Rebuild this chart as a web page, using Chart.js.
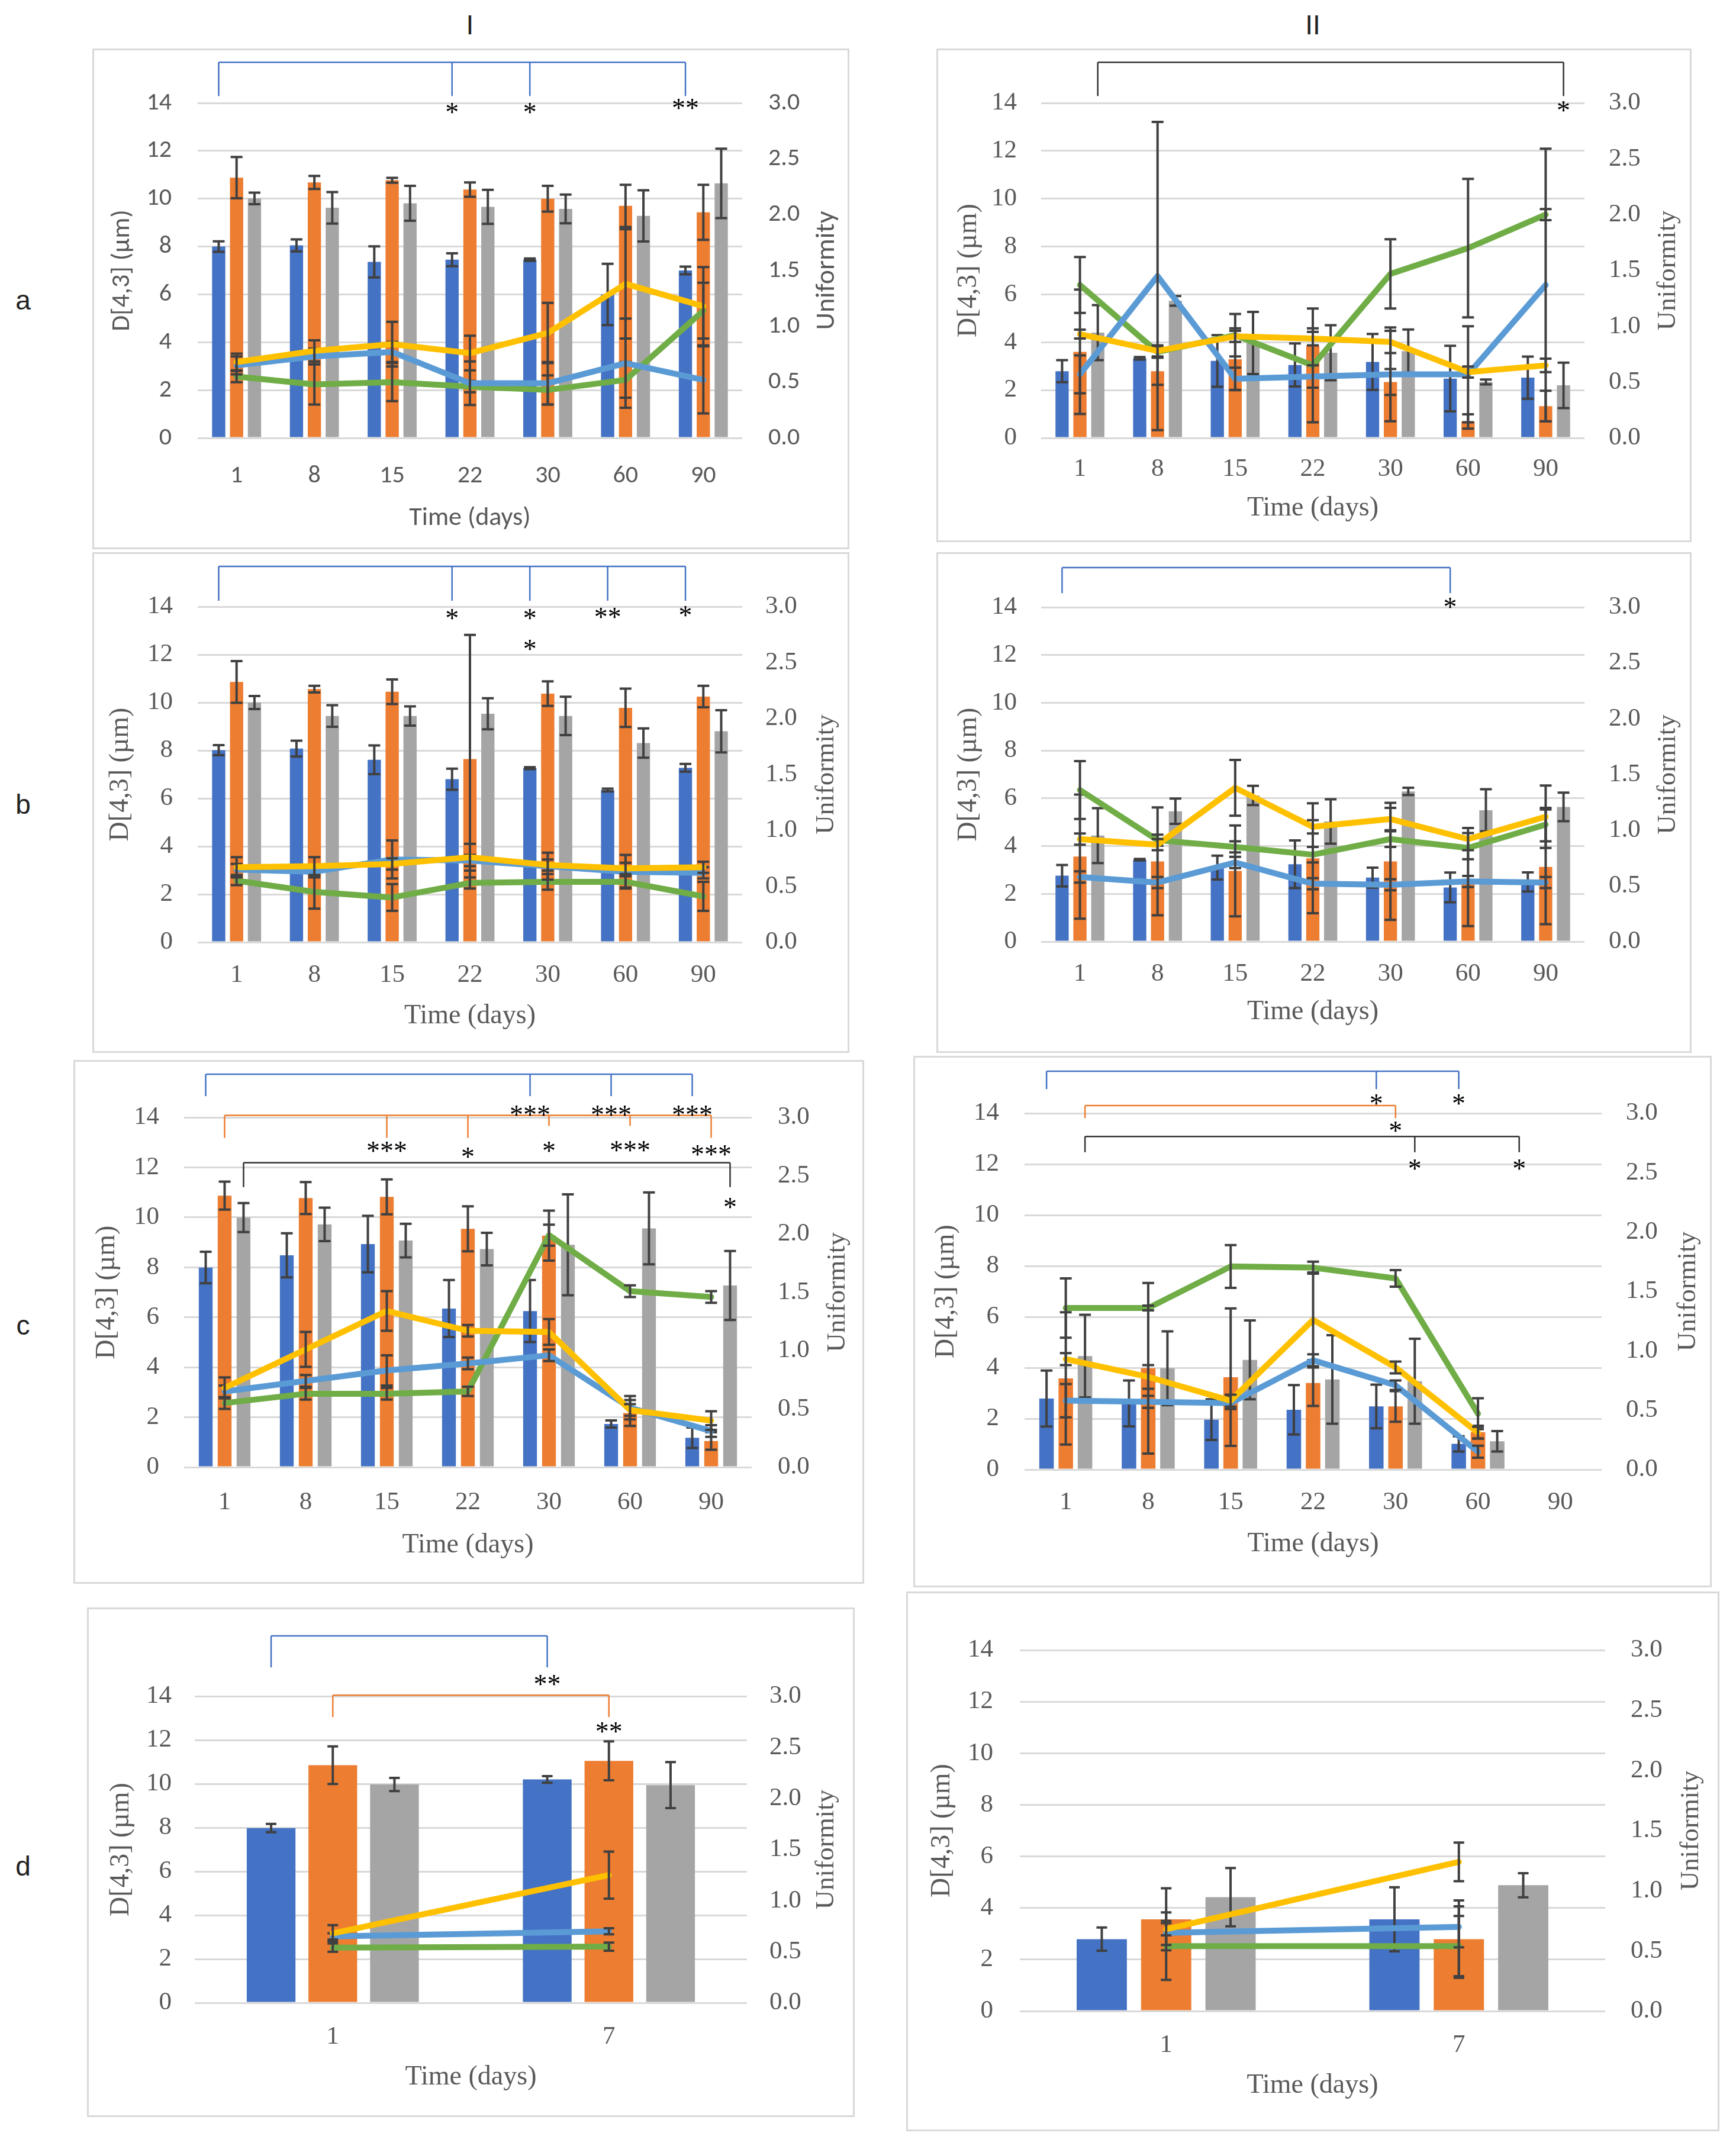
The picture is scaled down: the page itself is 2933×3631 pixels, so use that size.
<!DOCTYPE html>
<html><head><meta charset="utf-8">
<script src="https://cdn.jsdelivr.net/npm/chart.js@4.4.1/dist/chart.umd.min.js"></script>
<style>
html,body{margin:0;padding:0;background:#fff;}
body{width:2933px;height:3631px;position:relative;overflow:hidden;}
.panel{position:absolute;background:#fff;}
.panel canvas{position:absolute;left:0;top:0;}
.frame{position:absolute;border:3px solid #D9D9D9;box-sizing:border-box;pointer-events:none;}
.lbl{position:absolute;font-family:'Liberation Sans',Arial,sans-serif;font-size:46px;color:#222;transform:translate(-50%,-50%);}
</style></head><body>
<div class="lbl" style="left:794px;top:42px">I</div>
<div class="lbl" style="left:2218px;top:42px">II</div>
<div class="lbl" style="left:39px;top:507px">a</div>
<div class="lbl" style="left:39px;top:1359px">b</div>
<div class="lbl" style="left:39px;top:2239px">c</div>
<div class="lbl" style="left:39px;top:3153px">d</div>
<script>
// ---------------- DATA ----------------
const days7 = ['1','8','15','22','30','60','90'];
const days2 = ['1','7'];

// Panel a / I
const aI_blue = [8.0, 8.05, 7.36, 7.45, 7.45, 6.0, 7.0];
const aI_blueErr = [0.22, 0.25, 0.65, 0.27, 0.05, 1.28, 0.16];
const aI_orange = [10.88, 10.68, 10.77, 10.38, 10.0, 9.7, 9.43];
const aI_orangeErr = [0.86, 0.27, 0.1, 0.3, 0.54, 0.88, 1.15];
const aI_gray = [10.01, 9.62, 9.81, 9.66, 9.57, 9.28, 10.64];
const aI_grayErr = [0.24, 0.66, 0.73, 0.71, 0.6, 1.07, 1.45];
const aI_yellowU = [0.68, 0.78, 0.84, 0.76, 0.94, 1.38, 1.18];
const aI_yellowUErr = [0.075, 0.095, 0.2, 0.155, 0.27, 0.49, 0.35];
const aI_lblueU = [0.65, 0.73, 0.77, 0.49, 0.49, 0.67, 0.52];
const aI_lblueUErr = [0.08, 0.07, 0.09, 0.195, 0.19, 0.40, 0.30];
const aI_greenU = [0.55, 0.48, 0.50, 0.46, 0.43, 0.52, 1.14];
const aI_greenUErr = [0.05, 0.18, 0.17, 0.05, 0.13, 0.16, 0.25];

// Panel a / II
const aII_blue = [2.79, 3.33, 3.22, 3.05, 3.18, 2.48, 2.52];
const aII_blueErr = [0.46, 0.05, 1.08, 0.9, 1.17, 1.37, 0.88];
const aII_orange = [3.6, 2.79, 3.29, 3.86, 2.34, 0.69, 1.33];
const aII_orangeErr = [2.6, 0.57, 1.29, 0.72, 0.54, 0.3, 0.64];
const aII_gray = [4.4, 5.73, 3.97, 3.56, 3.63, 2.34, 2.2];
const aII_grayErr = [1.15, 0.2, 1.3, 1.15, 0.9, 0.1, 0.95];
const aII_yellowU = [0.93, 0.78, 0.91, 0.89, 0.86, 0.59, 0.65];
const aII_yellowUErr = [0.04, 0.05, 0.05, 0.06, 0.1, 0.05, 0.06];
const aII_lblueU = [0.57, 1.45, 0.53, 0.55, 0.57, 0.57, 1.37];
const aII_lblueUErr = [0.17, 1.38, 0.1, 0.1, 0.42, 0.43, 1.22];
const aII_greenU = [1.37, 0.77, 0.92, 0.65, 1.47, 1.70, 2.0];
const aII_greenUErr = [0.25, 0.05, 0.19, 0.51, 0.31, 0.62, 0.05];

// Panel b / I
const bI_blue = [8.01, 8.08, 7.61, 6.8, 7.26, 6.35, 7.28];
const bI_blueErr = [0.21, 0.33, 0.6, 0.44, 0.04, 0.06, 0.16];
const bI_orange = [10.86, 10.56, 10.45, 7.64, 10.37, 9.78, 10.25];
const bI_orangeErr = [0.87, 0.14, 0.51, 5.18, 0.51, 0.8, 0.45];
const bI_gray = [10.0, 9.44, 9.44, 9.53, 9.44, 8.31, 8.8];
const bI_grayErr = [0.27, 0.45, 0.4, 0.65, 0.8, 0.61, 0.88];
const bI_yellowU = [0.67, 0.68, 0.70, 0.76, 0.69, 0.66, 0.67];
const bI_yellowUErr = [0.09, 0.08, 0.05, 0.12, 0.05, 0.05, 0.05];
const bI_lblueU = [0.65, 0.63, 0.74, 0.73, 0.68, 0.63, 0.62];
const bI_lblueUErr = [0.05, 0.05, 0.17, 0.05, 0.12, 0.15, 0.05];
const bI_greenU = [0.55, 0.45, 0.40, 0.53, 0.54, 0.54, 0.41];
const bI_greenUErr = [0.04, 0.15, 0.12, 0.05, 0.07, 0.05, 0.13];

// Panel b / II
const bII_blue = [2.76, 3.43, 3.1, 3.24, 2.68, 2.27, 2.5];
const bII_blueErr = [0.45, 0.03, 0.5, 1.0, 0.42, 0.62, 0.4];
const bII_orange = [3.56, 3.36, 2.96, 3.49, 3.36, 2.6, 3.13];
const bII_orangeErr = [2.6, 2.26, 1.9, 2.3, 2.45, 1.95, 2.4];
const bII_gray = [4.44, 5.46, 6.12, 5.03, 6.29, 5.5, 5.64];
const bII_grayErr = [1.15, 0.53, 0.4, 0.93, 0.15, 0.88, 0.6];
const bII_yellowU = [0.92, 0.87, 1.38, 1.03, 1.10, 0.92, 1.12];
const bII_yellowUErr = [0.05, 0.05, 0.25, 0.06, 0.1, 0.1, 0.28];
const bII_lblueU = [0.58, 0.53, 0.71, 0.52, 0.51, 0.54, 0.53];
const bII_lblueUErr = [0.05, 0.05, 0.05, 0.05, 0.05, 0.05, 0.05];
const bII_greenU = [1.36, 0.91, 0.85, 0.78, 0.92, 0.84, 1.05];
const bII_greenUErr = [0.26, 0.05, 0.05, 0.07, 0.07, 0.1, 0.15];

// Panel c / I
const cI_blue = [7.99, 8.48, 8.93, 6.35, 6.25, 1.73, 1.18];
const cI_blueErr = [0.63, 0.88, 1.13, 1.14, 1.24, 0.14, 0.41];
const cI_orange = [10.87, 10.77, 10.82, 9.54, 9.27, 2.17, 1.05];
const cI_orangeErr = [0.56, 0.64, 0.7, 0.9, 1.0, 0.52, 0.35];
const cI_gray = [9.99, 9.72, 9.07, 8.73, 8.9, 9.56, 7.27];
const cI_grayErr = [0.58, 0.67, 0.67, 0.65, 2.02, 1.44, 1.38];
const cI_yellowU = [0.68, 1.01, 1.34, 1.17, 1.16, 0.49, 0.40];
const cI_yellowUErr = [0.09, 0.15, 0.17, 0.05, 0.11, 0.05, 0.08];
const cI_lblueU = [0.65, 0.74, 0.83, 0.89, 0.96, 0.51, 0.31];
const cI_lblueUErr = [0.05, 0.05, 0.13, 0.05, 0.05, 0.1, 0.05];
const cI_greenU = [0.55, 0.63, 0.63, 0.65, 1.99, 1.51, 1.46];
const cI_greenUErr = [0.05, 0.05, 0.05, 0.04, 0.09, 0.05, 0.05];

// Panel c / II (no 90-day values)
const cII_blue = [2.79, 2.6, 1.96, 2.35, 2.48, 1.01, null];
const cII_blueErr = [1.1, 0.9, 0.8, 0.97, 0.86, 0.3, null];
const cII_orange = [3.58, 3.98, 3.63, 3.4, 2.48, 1.47, null];
const cII_orangeErr = [2.6, 3.35, 2.7, 0.9, 0.6, 0.25, null];
const cII_gray = [4.46, 3.98, 4.31, 3.54, 3.47, 1.11, null];
const cII_grayErr = [1.62, 1.45, 1.55, 1.74, 1.67, 0.4, null];
const cII_yellowU = [0.93, 0.78, 0.58, 1.26, 0.86, 0.31, null];
const cII_yellowUErr = [0.05, 0.1, 0.05, 0.4, 0.05, 0.05, null];
const cII_lblueU = [0.58, 0.57, 0.56, 0.92, 0.71, 0.15, null];
const cII_lblueUErr = [0.14, 0.05, 0.05, 0.05, 0.04, 0.05, null];
const cII_greenU = [1.36, 1.36, 1.71, 1.70, 1.61, 0.47, null];
const cII_greenUErr = [0.25, 0.02, 0.18, 0.05, 0.07, 0.13, null];

// Panel d / I
const dI_blue = [7.98, 10.2];
const dI_blueErr = [0.19, 0.15];
const dI_orange = [10.85, 11.05];
const dI_orangeErr = [0.86, 0.89];
const dI_gray = [9.97, 9.94];
const dI_grayErr = [0.3, 1.05];
const dI_yellowU = [0.68, 1.25];
const dI_yellowUErr = [0.08, 0.23];
const dI_lblueU = [0.65, 0.70];
const dI_lblueUErr = [0.03, 0.03];
const dI_greenU = [0.54, 0.55];
const dI_greenUErr = [0.04, 0.04];

// Panel d / II
const dII_blue = [2.79, 3.56];
const dII_blueErr = [0.45, 1.24];
const dII_orange = [3.56, 2.79];
const dII_orangeErr = [1.2, 1.5];
const dII_gray = [4.42, 4.88];
const dII_grayErr = [1.13, 0.47];
const dII_yellowU = [0.68, 1.24];
const dII_yellowUErr = [0.05, 0.16];
const dII_lblueU = [0.65, 0.70];
const dII_lblueUErr = [0.1, 0.17];
const dII_greenU = [0.54, 0.54];
const dII_greenUErr = [0.28, 0.25];

// Significance brackets: level (left-axis units), anchors [category, barSeries(-1 = category scale), drop level]
const aI_brackets = [{c:'blue', y:15.7, at:[[0,0,14.29],[3,0,14.29],[4,0,14.29],[6,0,14.29]]}];
const aI_stars = [[3,0,13.8,'*'],[4,0,13.8,'*'],[6,0,13.97,'**']];
const aII_brackets = [{c:'black', y:15.7, at:[[0,2,14.29],[6,2,14.29]]}];
const aII_stars = [[6,2,13.87,'*']];
const bI_brackets = [{c:'blue', y:15.68, at:[[0,0,14.25],[3,0,14.25],[4,0,14.25],[5,0,14.25],[6,0,14.25]]}];
const bI_stars = [[3,0,13.7,'*'],[4,0,13.7,'*'],[5,0,13.75,'**'],[6,0,13.83,'*'],[4,0,12.42,'*']];
const bII_brackets = [{c:'blue', y:15.66, at:[[0,0,14.59],[5,0,14.59]]}];
const bII_stars = [[5,0,14.2,'*']];
const cI_brackets = [
  {c:'blue', y:15.73, at:[[0,0,14.85],[4,0,14.85],[5,0,14.85],[6,0,14.85]]},
  {c:'orange', y:14.08, at:[[0,1,13.18],[2,1,13.18],[3,1,13.18],[4,1,13.66],[5,1,13.66],[6,1,13.18]]},
  {c:'black', y:12.19, at:[[0,2,11.21],[6,2,11.21]]}
];
const cI_stars = [[4,0,14.29,'***'],[5,0,14.29,'***'],[6,0,14.29,'***'],
  [2,1,12.84,'***'],[3,1,12.61,'*'],[4,1,12.84,'*'],[5,1,12.86,'***'],[6,1,12.7,'***'],[6,2,10.6,'*']];
const cII_brackets = [
  {c:'blue', y:15.65, at:[[0,0,14.95],[4,0,14.95],[5,0,14.95]]},
  {c:'orange', y:14.3, at:[[0,2,13.81],[4,1,13.81]]},
  {c:'black', y:13.09, at:[[0,2,12.47],[4,2,12.47],[5.5,-1,12.47]]}
];
const cII_stars = [[4,0,14.56,'*'],[5,0,14.56,'*'],[4,1,13.49,'*'],[4,2,12.0,'*'],[5.5,-1,12.0,'*']];
const dI_brackets = [
  {c:'blue', y:16.76, at:[[0,0,15.32],[1,0,15.32]]},
  {c:'orange', y:14.05, at:[[0,1,13.05],[1,1,13.05]]}
];
const dI_stars = [[1,0,14.76,'**'],[1,1,12.6,'**']];
const dII_brackets = [];
const dII_stars = [];

// ---------------- STYLE / LAYOUT ----------------
const SANS = "'Carlito','Liberation Sans',Arial,sans-serif";
const SERIF = "'Liberation Serif','Times New Roman',serif";
const TXT = '#595959';
const COL = {blue:'#4472C4', orange:'#ED7D31', gray:'#A5A5A5', yellow:'#FFC000', lblue:'#5B9BD5', green:'#70AD47', black:'#333333'};
const BR = {blue:'#4472C4', orange:'#ED7D31', black:'#333333'};

const panels = [
 {id:'aI', serif:false, labels:days7, frame:[156,82,1435,928], plot:[334,174,1254,740], lt:290, rt:1298, ltc:207, rtc:1397, xtc:804, xttl:876,
  cat:0.69, bar:0.74, cap:10,
  bars:[aI_blue,aI_orange,aI_gray], barsErr:[aI_blueErr,aI_orangeErr,aI_grayErr],
  lines:[aI_yellowU,aI_lblueU,aI_greenU], linesErr:[aI_yellowUErr,aI_lblueUErr,aI_greenUErr], brackets:aI_brackets, stars:aI_stars},
 {id:'aII', serif:true, labels:days7, frame:[1582,82,2858,916], plot:[1759,174,2677,740], lt:1718, rt:2718, ltc:1637, rtc:2818, xtc:793, xttl:859,
  cat:0.69, bar:0.74, cap:10,
  bars:[aII_blue,aII_orange,aII_gray], barsErr:[aII_blueErr,aII_orangeErr,aII_grayErr],
  lines:[aII_yellowU,aII_lblueU,aII_greenU], linesErr:[aII_yellowUErr,aII_lblueUErr,aII_greenUErr], brackets:aII_brackets, stars:aII_stars},
 {id:'bI', serif:true, labels:days7, frame:[156,933,1435,1779], plot:[334,1025,1254,1592], lt:292, rt:1293, ltc:204, rtc:1396, xtc:1648, xttl:1717,
  cat:0.69, bar:0.74, cap:10,
  bars:[bI_blue,bI_orange,bI_gray], barsErr:[bI_blueErr,bI_orangeErr,bI_grayErr],
  lines:[bI_yellowU,bI_lblueU,bI_greenU], linesErr:[bI_yellowUErr,bI_lblueUErr,bI_greenUErr], brackets:bI_brackets, stars:bI_stars},
 {id:'bII', serif:true, labels:days7, frame:[1582,933,2858,1779], plot:[1759,1026,2677,1591], lt:1718, rt:2718, ltc:1637, rtc:2818, xtc:1646, xttl:1710,
  cat:0.69, bar:0.74, cap:10,
  bars:[bII_blue,bII_orange,bII_gray], barsErr:[bII_blueErr,bII_orangeErr,bII_grayErr],
  lines:[bII_yellowU,bII_lblueU,bII_greenU], linesErr:[bII_yellowUErr,bII_lblueUErr,bII_greenUErr], brackets:bII_brackets, stars:bII_stars},
 {id:'cI', serif:true, labels:days7, frame:[124,1791,1460,2676], plot:[311,1888,1270,2479], lt:269, rt:1314, ltc:181, rtc:1415, xtc:2539, xttl:2611,
  cat:0.70, bar:0.73, cap:10,
  bars:[cI_blue,cI_orange,cI_gray], barsErr:[cI_blueErr,cI_orangeErr,cI_grayErr],
  lines:[cI_yellowU,cI_lblueU,cI_greenU], linesErr:[cI_yellowUErr,cI_lblueUErr,cI_greenUErr], brackets:cI_brackets, stars:cI_stars},
 {id:'cII', serif:true, labels:days7, frame:[1543,1784,2892,2682], plot:[1731,1881,2706,2483], lt:1688, rt:2747, ltc:1599, rtc:2852, xtc:2539, xttl:2609,
  cat:0.70, bar:0.755, cap:10,
  bars:[cII_blue,cII_orange,cII_gray], barsErr:[cII_blueErr,cII_orangeErr,cII_grayErr],
  lines:[cII_yellowU,cII_lblueU,cII_greenU], linesErr:[cII_yellowUErr,cII_lblueUErr,cII_greenUErr], brackets:cII_brackets, stars:cII_stars},
 {id:'dI', serif:true, labels:days2, frame:[147,2716,1444,3577], plot:[329,2866,1262,3384], lt:290, rt:1300, ltc:205, rtc:1396, xtc:3442, xttl:3510,
  cat:0.67, bar:0.79, cap:9,
  bars:[dI_blue,dI_orange,dI_gray], barsErr:[dI_blueErr,dI_orangeErr,dI_grayErr],
  lines:[dI_yellowU,dI_lblueU,dI_greenU], linesErr:[dI_yellowUErr,dI_lblueUErr,dI_greenUErr], brackets:dI_brackets, stars:dI_stars},
 {id:'dII', serif:true, labels:days2, frame:[1531,2689,2905,3601], plot:[1723,2788,2712,3398], lt:1678, rt:2755, ltc:1592, rtc:2857, xtc:3456, xttl:3524,
  cat:0.66, bar:0.78, cap:9,
  bars:[dII_blue,dII_orange,dII_gray], barsErr:[dII_blueErr,dII_orangeErr,dII_grayErr],
  lines:[dII_yellowU,dII_lblueU,dII_greenU], linesErr:[dII_yellowUErr,dII_lblueUErr,dII_greenUErr], brackets:dII_brackets, stars:dII_stars}
];

function drawErr(chart, index, cap){
  const ds = chart.data.datasets[index];
  if (!ds || !ds.err) return;
  const meta = chart.getDatasetMeta(index);
  const ys = chart.scales[ds.yAxisID];
  const ctx = chart.ctx;
  ctx.save();
  ctx.strokeStyle = '#404040';
  ctx.lineWidth = 4;
  ctx.lineCap = 'butt';
  meta.data.forEach((el, j) => {
    const v = ds.data[j], e = ds.err[j];
    if (v == null || e == null || !el) return;
    const x = el.x;
    const yt = ys.getPixelForValue(v + e), yb = ys.getPixelForValue(v - e);
    ctx.beginPath();
    ctx.moveTo(x, yt); ctx.lineTo(x, yb);
    ctx.moveTo(x - cap, yt); ctx.lineTo(x + cap, yt);
    ctx.moveTo(x - cap, yb); ctx.lineTo(x + cap, yb);
    ctx.stroke();
  });
  ctx.restore();
}

function anchorX(chart, a){
  if (a[1] >= 0) return chart.getDatasetMeta(a[1]).data[a[0]].x;
  return chart.scales.x.getPixelForValue(a[0]);
}

function drawSig(chart, p){
  const ctx = chart.ctx, ys = chart.scales.y;
  ctx.save();
  ctx.lineWidth = 2.5;
  p.brackets.forEach(b => {
    ctx.strokeStyle = BR[b.c];
    const xs = b.at.map(a => anchorX(chart, a));
    const yTop = ys.getPixelForValue(b.y);
    ctx.beginPath();
    ctx.moveTo(Math.min(...xs), yTop); ctx.lineTo(Math.max(...xs), yTop);
    b.at.forEach((a, k) => {
      ctx.moveTo(xs[k], yTop); ctx.lineTo(xs[k], ys.getPixelForValue(a[2]));
    });
    ctx.stroke();
  });
  const sz = 46;
  ctx.fillStyle = '#000';
  ctx.font = sz + 'px ' + SERIF;
  ctx.textAlign = 'center';
  ctx.textBaseline = 'alphabetic';
  p.stars.forEach(s => {
    const x = anchorX(chart, s);
    const y = ys.getPixelForValue(s[2]);
    ctx.fillText(s[3], x, y + 0.5 * sz);
  });
  ctx.restore();
}

function build(p){
  const [fx, fy, fx2, fy2] = p.frame;
  const fw = fx2 - fx, fh = fy2 - fy;
  const [pl, pt, pr, pb] = p.plot;
  const wrap = document.createElement('div');
  wrap.className = 'panel';
  wrap.style.cssText = `left:${fx}px;top:${fy}px;width:${fw}px;height:${fh}px;`;
  const cv = document.createElement('canvas');
  cv.width = fw; cv.height = fh;
  cv.style.width = fw + 'px'; cv.style.height = fh + 'px';
  wrap.appendChild(cv);
  const fr = document.createElement('div');
  fr.className = 'frame';
  fr.style.cssText = `left:0;top:0;width:${fw}px;height:${fh}px;`;
  wrap.appendChild(fr);
  document.body.appendChild(wrap);

  const fam = p.serif ? SERIF : SANS;
  const tickSize = p.serif ? 43 : 42;
  const ttlSize = p.serif ? 46 : 44;
  const rttlSize = p.serif ? 45 : 46;
  const LH = 1.2;
  const tickFont = {family: fam, size: tickSize, lineHeight: LH};
  const ttlFont = {family: fam, size: ttlSize, lineHeight: LH};
  const Lw = pl - fx, Rw = fx2 - pr, Xh = fy2 - pb;

  const barColors = [COL.blue, COL.orange, COL.gray];
  const lineColors = [COL.yellow, COL.lblue, COL.green];
  const datasets = [];
  p.bars.forEach((d, i) => datasets.push({
    type: 'bar', data: d, err: p.barsErr[i], yAxisID: 'y', order: 1,
    backgroundColor: barColors[i], borderWidth: 0,
    barPercentage: p.bar, categoryPercentage: p.cat
  }));
  p.lines.forEach((d, i) => datasets.push({
    type: 'line', data: d, err: p.linesErr[i], yAxisID: 'y2', order: 0,
    borderColor: lineColors[i], backgroundColor: lineColors[i], borderWidth: 10,
    pointRadius: 0, tension: 0, fill: false, borderCapStyle: 'round', borderJoinStyle: 'round'
  }));

  const local = {
    id: 'local_' + p.id,
    afterDatasetDraw(chart, args){ drawErr(chart, args.index, p.cap); },
    afterDraw(chart){
      drawSig(chart, p);
      const ctx = chart.ctx;
      ctx.save();
      ctx.translate(p.rtc - fx, (pt + pb) / 2 - fy);
      ctx.rotate(-Math.PI / 2);
      ctx.font = rttlSize + 'px ' + fam;
      ctx.fillStyle = TXT;
      ctx.textAlign = 'center';
      ctx.textBaseline = 'middle';
      ctx.fillText('Uniformity', 0, 0);
      ctx.restore();
    }
  };

  new Chart(cv, {
    type: 'bar',
    data: {labels: p.labels, datasets},
    options: {
      responsive: false, animation: false, devicePixelRatio: 1,
      layout: {padding: {top: pt - fy, left: 0, right: 0, bottom: 0}},
      plugins: {legend: {display: false}, tooltip: {enabled: false}},
      scales: {
        x: {
          type: 'category', offset: true,
          grid: {display: false, drawTicks: false}, border: {display: false},
          ticks: {font: tickFont, color: TXT, padding: p.xtc - pb - tickSize * LH / 2, maxRotation: 0, autoSkip: false},
          title: {display: true, text: 'Time (days)', font: ttlFont, color: TXT,
                  padding: {top: 0, bottom: fy2 - p.xttl - ttlSize * LH / 2}},
          afterFit(s){ s.height = Xh; }
        },
        y: {
          position: 'left', min: 0, max: 14,
          ticks: {stepSize: 2, font: tickFont, color: TXT, padding: pl - p.lt},
          grid: {color: '#D9D9D9', lineWidth: 3, drawTicks: false}, border: {display: false},
          title: {display: true, text: 'D[4,3] (µm)', font: ttlFont, color: TXT,
                  padding: {top: p.ltc - fx - ttlSize * LH / 2, bottom: 0}},
          afterFit(s){ s.width = Lw; }
        },
        y2: {
          position: 'right', min: 0, max: 3,
          ticks: {stepSize: 0.5, font: tickFont, color: TXT, padding: p.rt - pr,
                  callback: v => Number(v).toFixed(1)},
          grid: {display: false, drawTicks: false}, border: {display: false},
          afterFit(s){ s.width = Rw; }
        }
      }
    },
    plugins: [local]
  });
}

panels.forEach(build);
</script>
</body></html>
